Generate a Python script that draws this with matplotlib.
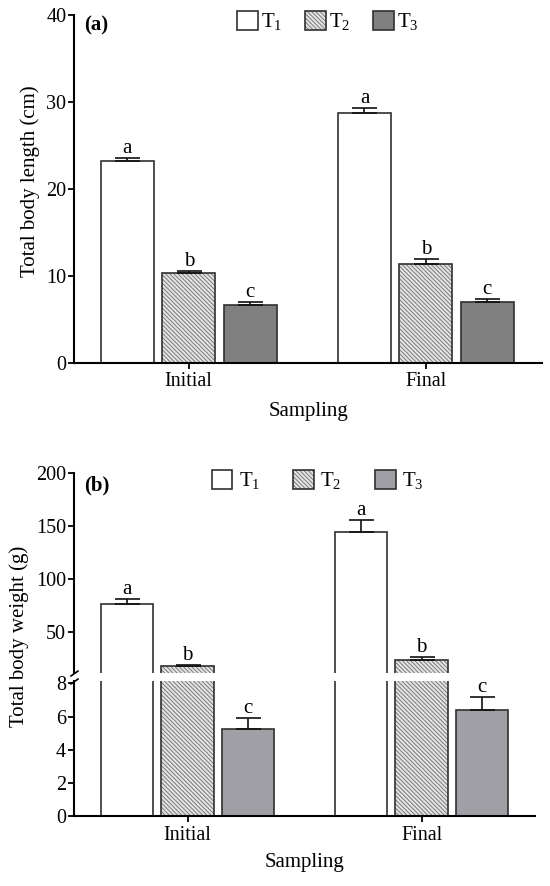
import numpy as np
import matplotlib
matplotlib.use('Agg')
from matplotlib import pyplot as pp
from matplotlib import rc
from matplotlib.patches import Patch

rc('font', **{'family': 'serif', 'serif': ['Liberation Serif', 'DejaVu Serif']})
rc('mathtext', **{'fontset': 'custom', 'rm': 'Liberation Serif',
                  'it': 'Liberation Serif:italic', 'bf': 'Liberation Serif:bold'})
rc('hatch', **{'linewidth': 0.7})

# data
sampling = ['Initial', 'Final']
treatments = ['T$_1$', 'T$_2$', 'T$_3$']
letters = ['a', 'b', 'c']

length_t1 = [23.2, 28.7]
length_t1_err = [0.4, 0.55]
length_t2 = [10.35, 11.3]
length_t2_err = [0.25, 0.6]
length_t3 = [6.65, 7.0]
length_t3_err = [0.3, 0.35]

weight_t1 = [76.1, 144.3]
weight_t1_err = [5.2, 11.0]
weight_t2 = [18.0, 23.6]
weight_t2_err = [0.6, 2.5]
weight_t3 = [5.25, 6.4]
weight_t3_err = [0.64, 0.8]

W, H = 550, 886
FS = 15
edge = '#303030'
hatchFace = '#e4e4e4'
hatchLine = '#7a7a7a'
hatchPattern = '\\' * 8
offsets = [-0.2587, 0.0, 0.2587]
barWidth = 0.2236


def fx(px):
  return px / W


def fy(py):
  return 1 - py / H


def drawBars(ax, x, means, errs, style):
  face, hatch = style
  if hatch:
    ax.bar(x, means, barWidth, color=face, edgecolor=hatchLine, linewidth=0, hatch=hatch, zorder=2)
    ax.bar(x, means, barWidth, color='none', edgecolor=edge, linewidth=1.2, zorder=2.1)
  else:
    ax.bar(x, means, barWidth, color=face, edgecolor=edge, linewidth=1.2, zorder=2)
  ax.errorbar(x, means, yerr=[np.zeros(len(means)), errs], fmt='none', ecolor='#111111',
              elinewidth=1.2, capsize=9, capthick=1.2, zorder=3)


def styleAx(ax):
  for s in ['top', 'right']:
    ax.spines[s].set_visible(False)
  for s in ['left', 'bottom']:
    ax.spines[s].set_linewidth(1.5)
  ax.tick_params(axis='y', length=4, width=1.3, pad=1.5, labelsize=14.5)
  ax.tick_params(axis='x', length=4, width=1.3, pad=3, labelsize=14.5)


def legendHandles(t3color):
  h1 = Patch(facecolor='white', edgecolor=edge, linewidth=1.2)
  h2 = (Patch(facecolor=hatchFace, edgecolor=hatchLine, linewidth=0, hatch=hatchPattern),
        Patch(facecolor='none', edgecolor=edge, linewidth=1.2))
  h3 = Patch(facecolor=t3color, edgecolor=edge, linewidth=1.2)
  return [h1, h2, h3]


fig = pp.figure(figsize=(W / 100, H / 100), dpi=100)
groups = np.arange(len(sampling))

# ---- panel (a)
axA = fig.add_axes([fx(74), fy(362.7), fx(541.7 - 74), (362.7 - 15) / H])
stylesA = [('white', None), (hatchFace, hatchPattern), ('#808080', None)]
meansA = [length_t1, length_t2, length_t3]
errsA = [length_t1_err, length_t2_err, length_t3_err]
for i in range(3):
  x = groups + offsets[i]
  drawBars(axA, x, meansA[i], errsA[i], stylesA[i])
  for j in range(len(x)):
    axA.annotate(letters[i], (x[j], meansA[i][j] + errsA[i][j]), xytext=(0, 0),
                 textcoords='offset points', ha='center', va='bottom', fontsize=FS)
axA.set_xlim(-0.484, 1.489)
axA.set_ylim(0, 40)
axA.set_yticks([0, 10, 20, 30, 40])
axA.set_xticks(groups)
axA.set_xticklabels(sampling)
styleAx(axA)
axA.legend(legendHandles('#808080'), treatments, ncol=3, frameon=False, fontsize=FS,
           handlelength=1.0, handleheight=1.0, handletextpad=0.15, columnspacing=1.1,
           borderpad=0, borderaxespad=0, loc='upper left',
           bbox_to_anchor=(fx(236.8), fy(11)), bbox_transform=fig.transFigure)

# ---- panel (b), broken y axis
left, right = 73.7, 534.9
axUp = fig.add_axes([fx(left), fy(673.3), fx(right - left), (673.3 - 472.7) / H])
axLo = fig.add_axes([fx(left), fy(816.3), fx(right - left), (816.3 - 681) / H])
stylesB = [('white', None), (hatchFace, hatchPattern), ('#a09fa6', None)]
meansB = [weight_t1, weight_t2, weight_t3]
errsB = [weight_t1_err, weight_t2_err, weight_t3_err]
loTop = 8.14
upBottom = 11.1
for i in range(3):
  x = groups + offsets[i]
  for ax in [axUp, axLo]:
    drawBars(ax, x, meansB[i], errsB[i], stylesB[i])
  for j in range(len(x)):
    top = meansB[i][j] + errsB[i][j]
    ax = axUp if top > loTop else axLo
    ax.annotate(letters[i], (x[j], top), xytext=(0, 0),
                textcoords='offset points', ha='center', va='bottom', fontsize=FS)

for ax in [axUp, axLo]:
  ax.set_xlim(-0.487, 1.484)
  styleAx(ax)
axUp.set_ylim(upBottom, 200)
axUp.set_yticks([50, 100, 150, 200])
axUp.spines['bottom'].set_visible(False)
axUp.tick_params(axis='x', bottom=False, labelbottom=False)
axLo.set_ylim(0, loTop)
axLo.set_yticks([0, 2, 4, 6, 8])
axLo.set_xticks(groups)
axLo.set_xticklabels(sampling)

brk = dict(marker=[(-1, -0.7), (1, 0.7)], markersize=6, linestyle='none', color='k',
           mec='k', mew=1.2, clip_on=False)
axUp.plot([0], [0], transform=axUp.transAxes, **brk)
axLo.plot([0], [1], transform=axLo.transAxes, **brk)

axUp.legend(legendHandles('#a09fa6'), treatments, ncol=3, frameon=False, fontsize=FS,
            handlelength=1.0, handleheight=1.0, handletextpad=0.3, columnspacing=1.6,
            borderpad=0, borderaxespad=0, loc='upper left',
            bbox_to_anchor=(fx(211.5), fy(470)), bbox_transform=fig.transFigure)

# ---- labels
fig.text(fx(29.8), fy(181), 'Total body length (cm)', rotation=90, ha='center', va='center', fontsize=FS)
fig.text(fx(19.3), fy(636.7), 'Total body weight (g)', rotation=90, ha='center', va='center', fontsize=FS)
fig.text(fx(308.7), fy(411.7), 'Sampling', ha='center', va='center', fontsize=FS)
fig.text(fx(304), fy(863), 'Sampling', ha='center', va='center', fontsize=FS)
fig.text(fx(84), fy(25), '(a)', ha='left', va='center', fontsize=FS, fontweight='bold')
fig.text(fx(84), fy(485), '(b)', ha='left', va='center', fontsize=FS, fontweight='bold')

fig.savefig('out.png', dpi=100)
